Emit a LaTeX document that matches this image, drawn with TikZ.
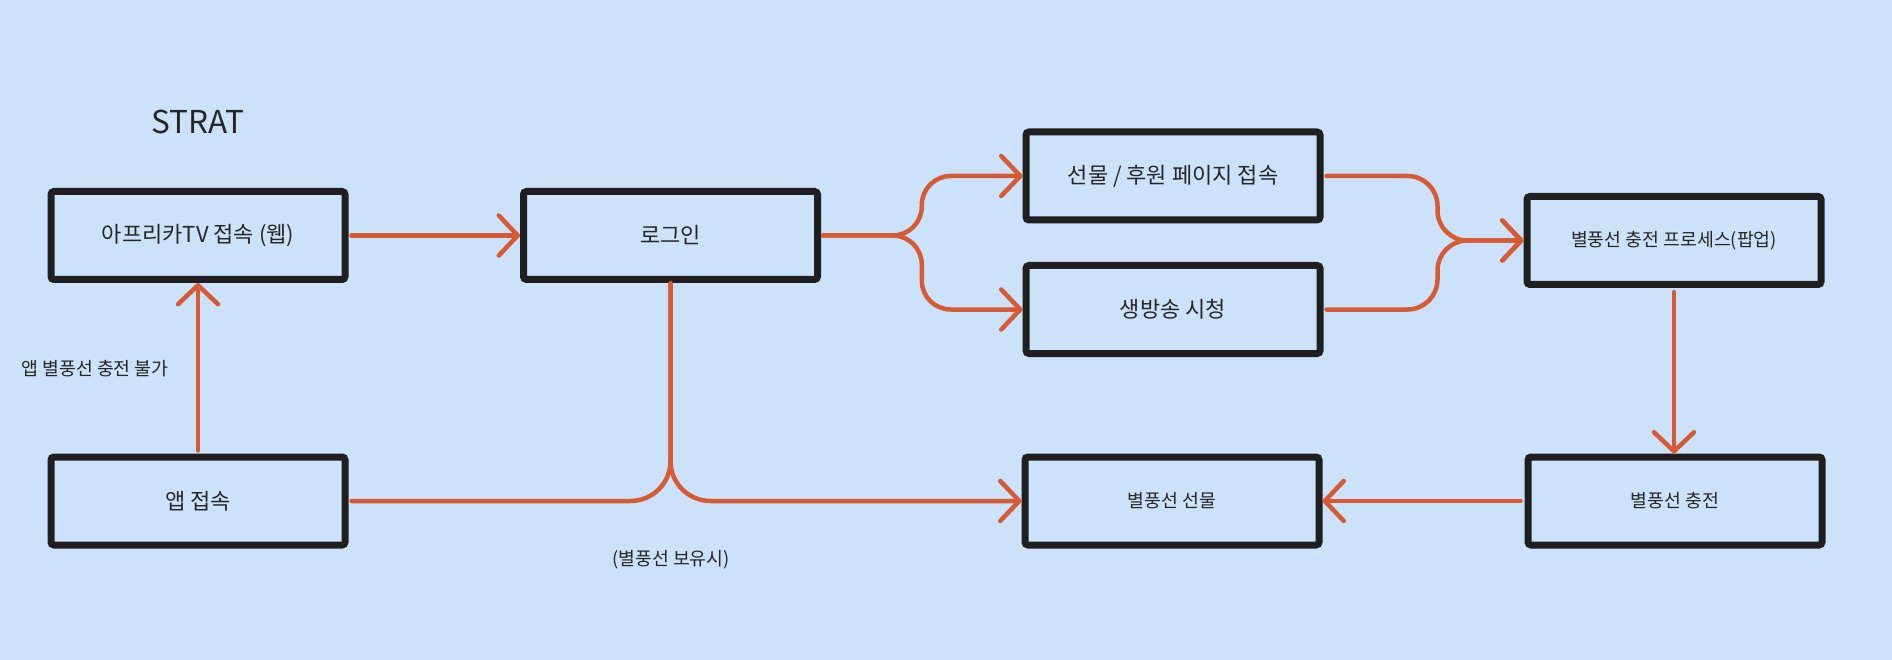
\documentclass[tikz,border=0pt]{standalone}
\usepackage{fontspec}
\setmainfont{Noto Sans CJK KR}
\usetikzlibrary{arrows.meta,calc}
\definecolor{bg}{HTML}{CCE2FA}
\definecolor{edge}{HTML}{1F1F1F}
\definecolor{org}{HTML}{D65A34}
\definecolor{txt}{HTML}{262626}
\begin{document}
\begin{tikzpicture}[x=1pt,y=-1pt,
  box/.style={draw=edge, line width=7pt, rounded corners=3pt, fill=bg,
    minimum width=294pt, minimum height=88pt, inner sep=0pt, text=txt,
    font=\fontsize{22}{26}\selectfont},
  small/.style={font=\fontsize{18.3}{22}\selectfont},
  lbl/.style={text=txt, inner sep=0pt},
  wire/.style={draw=org, line width=4.5pt, line cap=round, line join=round},
  conn/.style={wire, -{Straight Barb[length=19pt,width=40pt,round]}}
]
\fill[bg] (0,0) rectangle (1892,660);
\useasboundingbox (0,0) rectangle (1892,660);

\node[lbl, font=\fontsize{31.5}{36}\selectfont] (title) at (198,122) {STRAT};
\node[box] (web) at (198,235.5) {아프리카TV 접속 (웹)};
\node[box] (login) at (670.5,235.5) {로그인};
\node[box] (gift) at (1173,176) {선물 / 후원 페이지 접속};
\node[box] (live) at (1173,309.5) {생방송 시청};
\node[box, small] (popup) at (1674,240.5) {별풍선 충전 프로세스(팝업)};
\node[box, small] (charge) at (1675,501) {별풍선 충전};
\node[box, small] (bgift) at (1172,501) {별풍선 선물};
\node[box] (app) at (198,501) {앱 접속};
\node[lbl, small] (lab1) at (95,369) {앱 별풍선 충전 불가};
\node[lbl, small] (lab2) at (671,560) {(별풍선 보유시)};

\draw[conn, shorten <=3pt] (web.east) -- (login.west);
\draw[conn, shorten <=3pt] (app.north) -- (web.south);

\coordinate (m1) at ($(login.east)!0.5!(gift.west)$);
\draw[conn, shorten <=2pt, rounded corners=29pt] (login.east) -- (login.east -| m1) -- (gift.west -| m1) -- (gift.west);
\draw[conn, shorten <=2pt, rounded corners=29pt] (login.east) -- (login.east -| m1) -- (live.west -| m1) -- (live.west);

\coordinate (m2) at ($(gift.east)!0.57!(popup.west)$);
\draw[conn, shorten <=3pt, rounded corners=30pt] (gift.east) -- (gift.east -| m2) -- (popup.west -| m2) -- (popup.west);
\draw[conn, shorten <=3pt, rounded corners=30pt] (live.east) -- (live.east -| m2) -- (popup.west -| m2) -- (popup.west);

\draw[conn, shorten <=4pt] (popup.south) -- (popup.south |- charge.north);
\draw[conn, shorten <=4pt] (charge.west) -- (bgift.east);

\draw[conn, shorten <=2pt, rounded corners=40pt] (login.south) -- (login.south |- bgift.west) -- (bgift.west);
\draw[wire, shorten <=3pt, rounded corners=40pt] (app.east) -- (app.east -| login.south) -- (login.south);
\end{tikzpicture}
\end{document}
